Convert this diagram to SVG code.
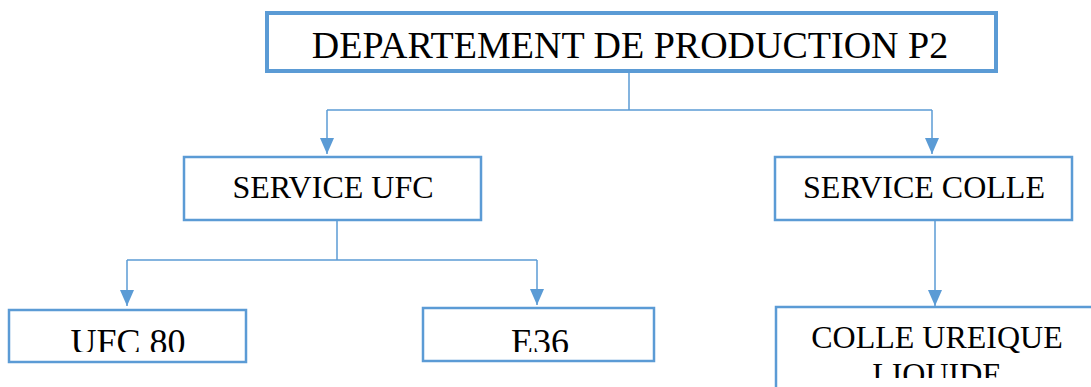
<svg xmlns="http://www.w3.org/2000/svg" width="1091" height="387" viewBox="0 0 1091 387">
  <defs>
    <marker id="arrow" markerUnits="userSpaceOnUse" markerWidth="16" markerHeight="16" viewBox="0 0 16 16" refX="16" refY="8" orient="auto">
      <path d="M0,1 L16,8 L0,15 Z" fill="#5B9BD5"/>
    </marker>
    <clipPath id="clip-ufc80"><rect x="9" y="310" width="237" height="42"/></clipPath>
    <clipPath id="clip-e36"><rect x="423" y="308" width="231" height="44"/></clipPath>
    <clipPath id="clip-colle"><rect x="776" y="308" width="315" height="70"/></clipPath>
  </defs>
  <style>
    .box { fill: #ffffff; stroke: #5B9BD5; stroke-width: 2.5; }
    .box-main { fill: #ffffff; stroke: #5B9BD5; stroke-width: 4; }
    .label { font-family: "Liberation Serif", "Times New Roman", serif; font-size: 32px; fill: #000000; text-anchor: middle; }
    .title { font-size: 38px; }
    .leaf { font-size: 36px; }
    .link { fill: none; stroke: #5B9BD5; stroke-width: 1.5; }
  </style>
  <rect width="1091" height="387" fill="#ffffff"/>

  <g id="connectors">
    <path class="link" d="M629,72 V110"/>
    <path class="link" d="M327,110 H932"/>
    <path class="link" d="M327,110 V154" marker-end="url(#arrow)"/>
    <path class="link" d="M932,110 V154" marker-end="url(#arrow)"/>
    <path class="link" d="M337,220 V260"/>
    <path class="link" d="M127,260 H537"/>
    <path class="link" d="M127,260 V306" marker-end="url(#arrow)"/>
    <path class="link" d="M537,260 V305" marker-end="url(#arrow)"/>
    <path class="link" d="M935,220 V306" marker-end="url(#arrow)"/>
  </g>

  <g id="node-departement">
    <rect class="box-main" x="267" y="13" width="729" height="58"/>
    <text class="label title" x="630" y="58">DEPARTEMENT DE PRODUCTION P2</text>
  </g>

  <g id="node-service-ufc">
    <rect class="box" x="184" y="157" width="297" height="63"/>
    <text class="label" x="333" y="198">SERVICE UFC</text>
  </g>

  <g id="node-service-colle">
    <rect class="box" x="775" y="157" width="297" height="63"/>
    <text class="label" x="924" y="198">SERVICE COLLE</text>
  </g>

  <g id="node-ufc80">
    <rect class="box" x="9" y="310" width="237" height="52"/>
    <text class="label leaf" x="128" y="354" clip-path="url(#clip-ufc80)">UFC 80</text>
  </g>

  <g id="node-e36">
    <rect class="box" x="423" y="308" width="231" height="53"/>
    <text class="label leaf" x="540" y="354" clip-path="url(#clip-e36)">E36</text>
  </g>

  <g id="node-colle-ureique">
    <rect class="box" x="776" y="307" width="330" height="100"/>
    <g clip-path="url(#clip-colle)">
      <text class="label" x="937" y="348">COLLE UREIQUE</text>
      <text class="label" x="937" y="385">LIQUIDE</text>
    </g>
  </g>
</svg>
